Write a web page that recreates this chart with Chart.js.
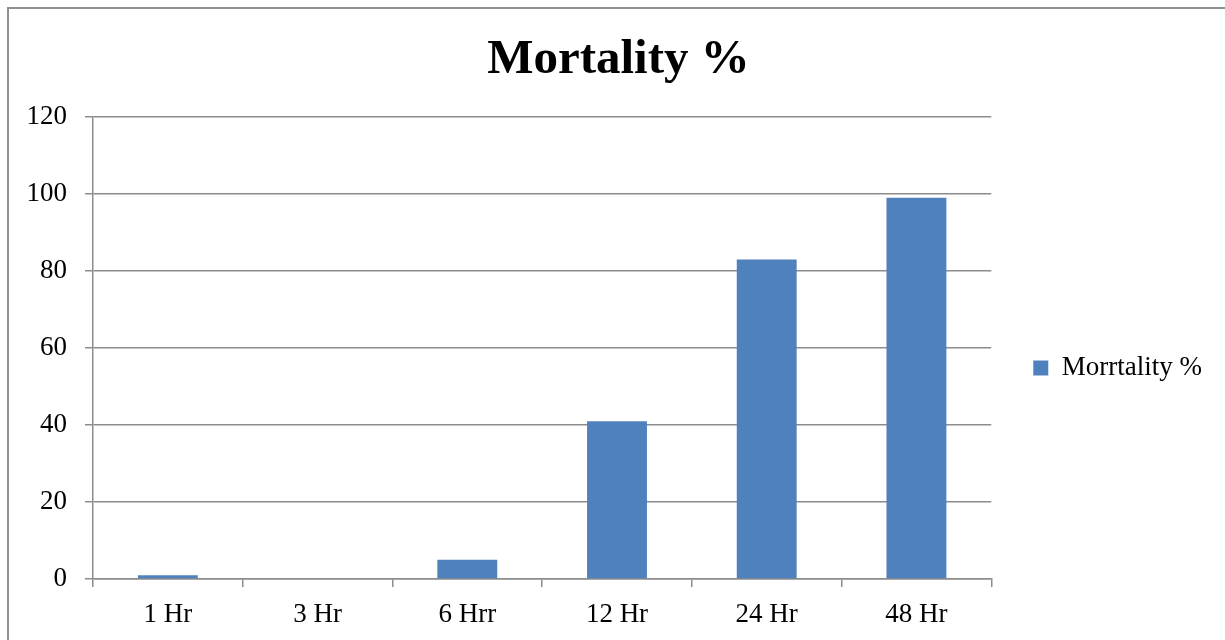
<!DOCTYPE html>
<html>
<head>
<meta charset="utf-8">
<script src="https://cdn.jsdelivr.net/npm/chart.js@4"></script>
<style>
  html, body { margin: 0; padding: 0; background: #fff; overflow: hidden; }
  #frame {
    position: absolute; left: 7px; top: 7px; width: 1300px; height: 700px;
    border-left: 2px solid #8f8f8f; border-top: 2px solid #8f8f8f;
  }
  #wrap { position: absolute; left: 10px; top: 10px; width: 1215px; height: 630px; }
</style>
</head>
<body>
<div id="frame"></div>
<div id="wrap"><canvas id="chart" width="1215" height="630"></canvas></div>
<script>
// 資料
const categories = ["1 Hr", "3 Hr", "6 Hrr", "12 Hr", "24 Hr", "48 Hr"];
const mortality = [1, 0, 5, 41, 83, 99];
const seriesName = "Morrtality %";
const chartTitle = "Mortality %";
const yTicks = [0, 20, 40, 60, 80, 100, 120];

const serif = "'Liberation Serif', 'Times New Roman', serif";
const gridColor = "#8c8c8c";
const barColor = "#4f81bd";

const ctx = document.getElementById("chart").getContext("2d");

new Chart(ctx, {
  type: "bar",
  data: {
    labels: categories,
    datasets: [{
      label: seriesName,
      data: mortality,
      backgroundColor: barColor,
      borderWidth: 0,
      barPercentage: 0.4,
      categoryPercentage: 1.0
    }]
  },
  options: {
    responsive: false,
    animation: false,
    layout: { padding: { left: 15, right: 13, top: 0, bottom: 0 } },
    plugins: {
      title: {
        display: true,
        text: chartTitle,
        color: "#000",
        font: { family: serif, size: 49, weight: "bold" },
        padding: { top: 21, bottom: 27.2 }
      },
      legend: {
        display: true,
        position: "right",
        // 空白標題只用來把圖例往下推
        title: { display: true, text: " ", font: { size: 10 }, padding: { top: 74, bottom: 0 } },
        labels: {
          color: "#000",
          font: { family: serif, size: 27 },
          boxWidth: 15,
          boxHeight: 15,
          padding: 42
        }
      },
      tooltip: { enabled: false }
    },
    scales: {
      x: {
        offset: true,
        afterFit: axis => { axis.height = 61; },
        grid: {
          display: true,
          drawOnChartArea: false,
          offset: true,
          color: gridColor,
          lineWidth: 1.5,
          tickLength: 8
        },
        border: { display: true, color: gridColor, width: 1.5 },
        ticks: {
          color: "#000",
          font: { family: serif, size: 27 },
          padding: 12,
          maxRotation: 0
        }
      },
      y: {
        min: 0,
        max: 120,
        afterBuildTicks: axis => { axis.ticks = yTicks.map(v => ({ value: v })); },
        afterFit: axis => { axis.width = 68; },
        grid: {
          color: gridColor,
          lineWidth: 1.5,
          tickLength: 8
        },
        border: { display: true, color: gridColor, width: 1.5 },
        ticks: {
          color: "#000",
          font: { family: serif, size: 27 },
          padding: 18
        }
      }
    }
  }
});
</script>
</body>
</html>
